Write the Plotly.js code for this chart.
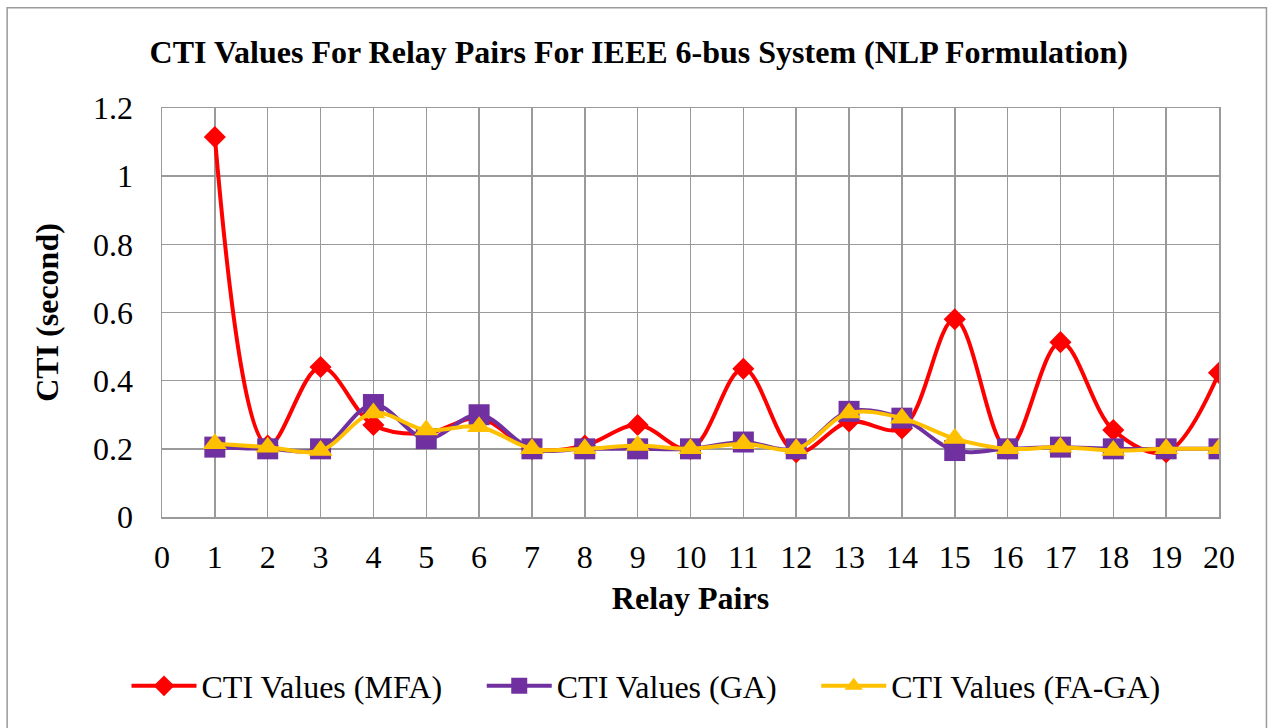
<!DOCTYPE html>
<html>
<head>
<meta charset="utf-8">
<script src="https://cdn.plot.ly/plotly-3.0.1.min.js"></script>
<style>html,body{margin:0;padding:0;background:#fff;}#chart{width:1270px;height:728px;}</style>
</head>
<body>
<div id="chart"></div>
<script>
const relayPairs = [1,2,3,4,5,6,7,8,9,10,11,12,13,14,15,16,17,18,19,20];
const ctiMFA  = [1.115,0.21,0.44,0.27,0.245,0.29,0.2,0.21,0.27,0.2,0.435,0.19,0.28,0.26,0.58,0.2,0.513,0.255,0.19,0.423];
const ctiGA   = [0.205,0.2,0.2,0.33,0.23,0.3,0.2,0.2,0.2,0.2,0.22,0.2,0.31,0.29,0.195,0.2,0.205,0.2,0.2,0.2];
const ctiFAGA = [0.215,0.205,0.195,0.305,0.255,0.265,0.2,0.2,0.21,0.2,0.215,0.2,0.305,0.29,0.23,0.2,0.205,0.195,0.2,0.2];
const seriesNames = ['CTI Values (MFA)','CTI Values (GA)','CTI Values (FA-GA)'];

const serif = '"Liberation Serif", "Times New Roman", serif';
const pad = '\u00A0\u00A0\u00A0\u00A0\u200A';
function tr(y, name, color, symbol, size){
  return {x: relayPairs, y: y, name: name, type:'scatter', mode:'lines+markers',
    line:{color:color, width:4, shape:'spline', smoothing:1},
    marker:{color:color, symbol:symbol, size:size, line:{width:0}}};
}
const data = [
  tr(ctiMFA, seriesNames[0] + pad, '#FF0000', 'diamond', 17),
  tr(ctiGA, seriesNames[1] + pad, '#7030A0', 'square', 21),
  tr(ctiFAGA, seriesNames[2], '#FFC000', 'triangle-up', 21)
];
const layout = {
  width:1270, height:728,
  margin:{l:161.5, r:50.5, t:107.5, b:211},
  paper_bgcolor:'#fff', plot_bgcolor:'#fff',
  font:{family:serif, size:32, color:'#000'},
  title:{text:'<b>CTI Values For Relay Pairs For IEEE 6-bus System (NLP Formulation)</b>',
    font:{family:serif, size:32, color:'#000'}, x:0.503, xanchor:'center', y:1-52/728, yanchor:'middle'},
  xaxis:{range:[0,20], dtick:1, tick0:0, showgrid:true, gridcolor:'#9a9a9a', gridwidth:1.5,
    zeroline:false, showline:true, linecolor:'#9a9a9a', linewidth:1.5, mirror:true,
    ticks:'', ticklabelstandoff:11, tickfont:{family:serif, size:32},
    title:{text:'<b>Relay Pairs</b>', font:{family:serif, size:32}, standoff:12}},
  yaxis:{range:[0,1.2], dtick:0.2, tick0:0, showgrid:true, gridcolor:'#9a9a9a', gridwidth:1.5,
    zeroline:false, showline:true, linecolor:'#9a9a9a', linewidth:1.5, mirror:true,
    ticks:'', ticklabelstandoff:21, tickfont:{family:serif, size:32},
    title:{text:'<b>CTI (second)</b>', font:{family:serif, size:32}, standoff:25}},
  showlegend:true,
  legend:{orientation:'h', xref:'container', yref:'container', x:646/1270, xanchor:'center', y:1-686/728, yanchor:'middle',
    font:{family:serif, size:32}, itemwidth:65, traceorder:'normal'},
  shapes:[{type:'rect', xref:'paper', yref:'paper', x0:-0.1465, x1:1.0449, y0:-0.53, y1:1.2454,
    line:{color:'#9a9a9a', width:1.5}, fillcolor:'rgba(0,0,0,0)', layer:'below'}]
};
Plotly.newPlot('chart', data, layout, {displayModeBar:false, staticPlot:true});
</script>
</body>
</html>
